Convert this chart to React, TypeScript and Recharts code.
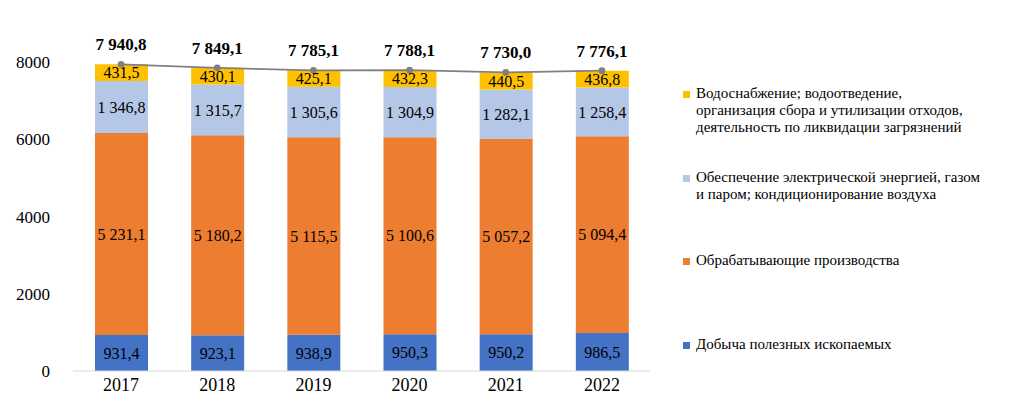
import React from 'react';
import { ComposedChart, Bar, Line, XAxis, YAxis, LabelList } from 'recharts';

const years = ['2017', '2018', '2019', '2020', '2021', '2022'];
const mining = [931.4, 923.1, 938.9, 950.3, 950.2, 986.5];
const manufacturing = [5231.1, 5180.2, 5115.5, 5100.6, 5057.2, 5094.4];
const energy = [1346.8, 1315.7, 1305.6, 1304.9, 1282.1, 1258.4];
const water = [431.5, 430.1, 425.1, 432.3, 440.5, 436.8];
const totals = [7940.8, 7849.1, 7785.1, 7788.1, 7730.0, 7776.1];
const yTicks = [0, 2000, 4000, 6000, 8000];

const legendItems = [
    { color: '#ffc000', lines: ['Водоснабжение; водоотведение,', 'организация сбора и утилизации отходов,', 'деятельность по ликвидации загрязнений'] },
    { color: '#b4c7e7', lines: ['Обеспечение электрической энергией, газом', 'и паром; кондиционирование воздуха'] },
    { color: '#ed7d31', lines: ['Обрабатывающие производства'] },
    { color: '#4472c4', lines: ['Добыча полезных ископаемых'] },
];

const data = years.map((y, i) => ({
    year: y,
    mining: mining[i],
    manufacturing: manufacturing[i],
    energy: energy[i],
    water: water[i],
    total: totals[i],
}));

const fmt = (v: any) => {
    const [int, dec] = Number(v).toFixed(1).split('.');
    return int.replace(/\B(?=(\d{3})+(?!\d))/g, ' ') + ',' + dec;
};

const FONT = '"Liberation Serif", "Times New Roman", serif';

const ChartLegend = () => (
    <div style={{ position: 'absolute', left: 683, top: 85, width: 340, fontFamily: FONT, fontSize: 15, lineHeight: '17px', color: '#000' }}>
        {legendItems.map((item, i) => (
            <div key={i} style={{ display: 'flex', alignItems: 'flex-start', height: 83.5 }}>
                <span style={{ width: 7, height: 7, background: item.color, marginTop: 6, marginRight: 6, flexShrink: 0 }} />
                <div>
                    {item.lines.map((l, j) => (
                        <div key={j}>{l}</div>
                    ))}
                </div>
            </div>
        ))}
    </div>
);

const labelStyle = { fontFamily: FONT, fontSize: 16, fill: '#000' };

const App: React.FC = () => {
    return (
        <div style={{ position: 'absolute', left: 0, top: 0, width: 1024, height: 418, background: '#fff' }}>
            <ComposedChart
                width={1024}
                height={418}
                data={data}
                margin={{ top: 62, right: 374, left: 10, bottom: 17 }}
                barSize={53}
            >
                <XAxis
                    dataKey="year"
                    axisLine={{ stroke: '#d9d9d9' }}
                    tickLine={false}
                    height={30}
                    tickMargin={1}
                    tick={{ fontFamily: FONT, fontSize: 18, fill: '#000' }}
                />
                <YAxis
                    domain={[0, 8000]}
                    ticks={yTicks}
                    axisLine={false}
                    tickLine={false}
                    width={63}
                    tickMargin={17}
                    tick={{ fontFamily: FONT, fontSize: 17, fill: '#000' }}
                />
                <Bar dataKey="mining" stackId="a" fill="#4472c4" isAnimationActive={false}>
                    <LabelList dataKey="mining" position="center" formatter={fmt} style={labelStyle} />
                </Bar>
                <Bar dataKey="manufacturing" stackId="a" fill="#ed7d31" isAnimationActive={false}>
                    <LabelList dataKey="manufacturing" position="center" formatter={fmt} style={labelStyle} />
                </Bar>
                <Bar dataKey="energy" stackId="a" fill="#b4c7e7" isAnimationActive={false}>
                    <LabelList dataKey="energy" position="center" formatter={fmt} style={labelStyle} />
                </Bar>
                <Bar dataKey="water" stackId="a" fill="#ffc000" isAnimationActive={false}>
                    <LabelList dataKey="water" position="center" formatter={fmt} style={labelStyle} />
                </Bar>
                <Line
                    dataKey="total"
                    stroke="#808080"
                    strokeWidth={1.75}
                    dot={{ r: 2.5, fill: '#808080', stroke: '#808080' }}
                    isAnimationActive={false}
                >
                    <LabelList
                        dataKey="total"
                        position="top"
                        offset={14}
                        formatter={fmt}
                        style={{ fontFamily: FONT, fontSize: 17, fontWeight: 'bold', fill: '#000' }}
                    />
                </Line>
            </ComposedChart>
            <ChartLegend />
        </div>
    );
};

export default App;
